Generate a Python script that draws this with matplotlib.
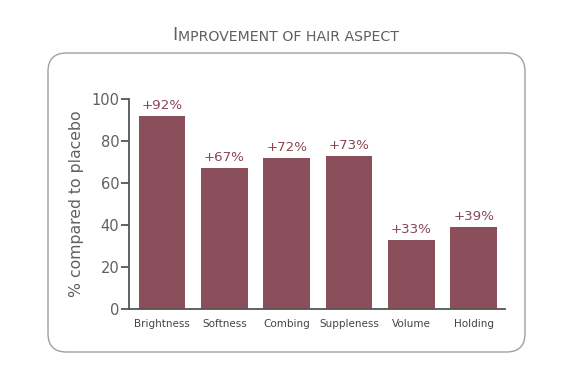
import matplotlib
matplotlib.use("Agg")
import matplotlib.pyplot as plt
from matplotlib.patches import FancyBboxPatch

# data
categories = ["Brightness", "Softness", "Combing", "Suppleness", "Volume", "Holding"]
values = [92, 67, 72, 73, 33, 39]
value_labels = ["+92%", "+67%", "+72%", "+73%", "+33%", "+39%"]
y_ticks = [0, 20, 40, 60, 80, 100]

bar_color = "#8a4f5a"
label_color = "#8a4555"
gray = "#606060"

plt.rcParams["font.family"] = ["DejaVu Sans"]

W, H = 576, 377
fig = plt.figure(figsize=(W / 100, H / 100), dpi=100)

# rounded frame around the chart
box = FancyBboxPatch(
    (48 / W, 1 - 352 / H), (525 - 48) / W, (352 - 53) / H,
    boxstyle="round,pad=0,rounding_size=0.032",
    transform=fig.transFigure, facecolor="white",
    edgecolor="#a0a0a0", linewidth=1.0, mutation_aspect=W / H,
    zorder=-1,
)
fig.patches.append(box)

ax = fig.add_axes([129 / W, 1 - 309 / H, (505 - 129) / W, (309 - 99) / H])
ax.set_facecolor("none")

x = range(len(categories))
ax.bar(x, values, width=0.75, color=bar_color)

for xi, v, lab in zip(x, values, value_labels):
    ax.annotate(lab, (xi, v), xytext=(0, 3), textcoords="offset points",
                ha="center", va="bottom", color=label_color, fontsize=9.6)

ax.set_xlim(-0.53, 5.5)
ax.set_ylim(0, 100)
ax.set_yticks(y_ticks)
ax.set_xticks(list(x))
ax.set_xticklabels(categories, fontsize=7.5, color="#444444")
ax.tick_params(axis="x", length=0, pad=7)
ax.tick_params(axis="y", length=6, width=1.3, color="#555555",
               labelsize=10.5, labelcolor=gray, pad=1)

for side in ["top", "right"]:
    ax.spines[side].set_visible(False)
for side in ["left", "bottom"]:
    ax.spines[side].set_color("#555555")
    ax.spines[side].set_linewidth(1.3)

ax.set_ylabel("% compared to placebo", fontsize=11.3, color=gray, labelpad=5)

# small-caps style title
t1 = fig.text(172 / W, 1 - 40 / H, "I", fontsize=13, color=gray,
              ha="left", va="baseline")
fig.canvas.draw()
ax.annotate("MPROVEMENT OF HAIR ASPECT", xy=(1, 0), xycoords=t1,
            xytext=(0.5, 0), textcoords="offset points",
            fontsize=10.2, color=gray, ha="left", va="bottom",
            annotation_clip=False)

fig.savefig("out.png", dpi=100)
